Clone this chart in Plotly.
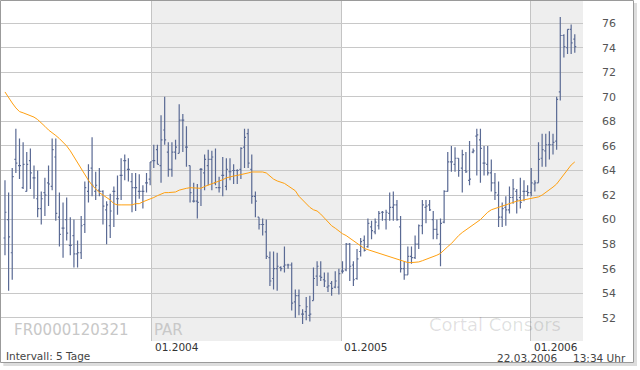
import pandas as pd
import plotly.graph_objects as go

first_week = "2003-03-24"

open_ = [58.5, 60.0, 57.3, 64.9, 64.4, 62.6, 62.3, 64.8, 63.4, 61.7,
         60.9, 62.2, 63.0, 62.7, 65.1, 60.2, 59.3, 60.0, 57.9, 58.7,
         57.2, 57.3, 59.6, 62.3, 64.2, 62.3, 62.4, 62.3, 60.8, 59.5,
         62.3, 61.7, 63.6, 64.8, 64.1, 63.1, 62.6, 62.3, 62.3, 63.0,
         63.3, 64.8, 65.7, 64.4, 67.3, 65.5, 64.1, 65.5, 65.4, 68.1,
         65.9, 64.4, 61.5, 61.5, 64.1, 63.8, 64.4, 64.9, 63.0, 62.6,
         63.6, 62.7, 63.9, 64.0, 64.0, 64.1, 65.9, 67.0, 64.1, 61.9,
         60.2, 59.6, 59.0, 56.9, 55.2, 56.0, 56.1, 56.2, 56.3, 56.3,
         53.3, 53.8, 52.3, 52.5, 52.2, 53.4, 55.4, 55.4, 55.1, 54.5,
         54.8, 54.5, 54.5, 55.8, 55.9, 58.0, 56.3, 55.2, 57.4, 58.3,
         57.8, 59.4, 59.0, 59.5, 60.6, 60.0, 60.5, 61.0, 61.2, 59.4,
         56.0, 55.5, 57.0, 56.9, 58.0, 59.5, 61.0, 61.2, 60.0, 59.2,
         58.0, 59.8, 62.3, 64.7, 64.5, 65.0, 64.2, 64.0, 63.2, 65.5,
         66.8, 66.5, 64.6, 64.5, 63.8, 63.0, 62.0, 60.2, 61.0, 60.8,
         61.8, 62.3, 61.8, 62.3, 62.3, 62.2, 62.9, 63.0, 65.0, 65.6,
         66.1, 66.1, 66.4, 70.4, 75.0, 74.0, 75.5, 74.7]
high = [63.2, 62.2, 64.2, 67.4, 66.6, 66.3, 65.5, 65.8, 64.4, 64.0,
        62.3, 63.4, 64.4, 66.6, 66.6, 62.2, 61.4, 61.8, 60.2, 60.0,
        58.3, 60.3, 63.1, 64.5, 66.7, 63.9, 64.2, 62.4, 61.5, 62.1,
        62.7, 63.6, 65.0, 65.3, 65.0, 63.8, 63.8, 63.7, 62.8, 63.8,
        64.7, 66.1, 66.1, 68.5, 70.0, 66.3, 66.3, 66.5, 69.4, 68.6,
        67.6, 64.4, 63.0, 62.9, 64.2, 65.3, 65.7, 65.6, 65.8, 63.5,
        65.1, 65.0, 65.0, 64.5, 64.1, 65.9, 67.4, 67.4, 65.3, 62.3,
        60.2, 60.1, 60.0, 57.4, 57.4, 57.3, 56.2, 57.8, 56.4, 56.5,
        54.3, 54.3, 52.7, 53.7, 53.8, 56.1, 56.6, 56.6, 55.7, 55.7,
        55.0, 55.8, 56.0, 56.6, 58.1, 58.1, 56.6, 57.6, 58.5, 58.7,
        60.1, 59.9, 60.1, 60.7, 60.7, 60.8, 62.2, 62.3, 61.6, 60.3,
        56.6, 57.8, 57.8, 58.7, 59.6, 61.6, 61.6, 61.6, 60.7, 60.0,
        60.1, 62.4, 65.5, 66.0, 65.9, 65.0, 65.7, 65.5, 66.4, 65.8,
        67.4, 67.4, 66.0, 66.0, 64.9, 63.8, 63.1, 61.4, 61.9, 62.7,
        63.3, 62.5, 63.4, 63.2, 62.8, 64.2, 63.2, 66.3, 67.0, 67.0,
        67.2, 67.0, 70.0, 76.5, 75.1, 75.5, 75.9, 75.1]
low = [57.1, 54.2, 55.1, 63.8, 63.3, 62.5, 62.3, 62.5, 61.7, 60.2,
       59.6, 60.3, 61.1, 62.4, 59.9, 57.8, 56.9, 58.3, 57.1, 56.1,
       56.1, 56.8, 58.9, 61.4, 61.9, 61.6, 61.9, 59.6, 58.0, 58.5,
       59.4, 60.4, 61.6, 63.2, 63.1, 60.6, 60.7, 61.7, 60.9, 62.2,
       62.8, 64.2, 64.5, 63.0, 66.1, 63.5, 63.5, 64.9, 65.4, 65.5,
       64.3, 61.4, 61.4, 60.1, 61.1, 62.4, 62.8, 62.4, 62.8, 62.2,
       61.9, 62.4, 63.2, 62.9, 62.9, 63.3, 64.2, 64.2, 61.3, 60.2,
       59.2, 58.7, 56.8, 54.6, 54.3, 54.2, 55.8, 55.7, 56.0, 52.6,
       52.0, 52.2, 51.5, 51.8, 51.7, 53.4, 54.6, 55.0, 54.5, 54.1,
       53.8, 54.4, 53.9, 55.6, 55.8, 55.0, 54.6, 55.1, 57.0, 57.4,
       57.7, 58.4, 58.8, 59.2, 59.9, 59.2, 59.9, 59.9, 59.9, 55.7,
       55.1, 55.5, 56.4, 56.8, 57.6, 58.8, 59.7, 60.7, 58.4, 58.4,
       56.2, 59.7, 62.3, 63.9, 63.9, 63.5, 62.2, 63.8, 62.8, 65.4,
       63.6, 63.0, 63.6, 63.6, 62.3, 61.6, 59.4, 59.4, 59.5, 60.5,
       61.3, 60.5, 60.9, 61.5, 61.9, 61.9, 62.3, 63.0, 64.3, 64.3,
       64.9, 65.3, 65.7, 69.7, 73.2, 73.5, 73.5, 73.6]
close = [60.6, 58.6, 63.5, 64.6, 64.4, 64.5, 64.5, 63.8, 63.4, 60.9,
         61.7, 62.0, 62.9, 65.7, 60.5, 58.8, 59.3, 58.9, 57.9, 57.2,
         57.3, 59.5, 62.6, 64.0, 62.8, 62.8, 62.3, 61.1, 61.2, 60.7,
         62.3, 61.7, 63.6, 64.8, 64.1, 62.6, 62.6, 62.3, 62.3, 63.0,
         64.7, 64.8, 64.5, 66.5, 66.5, 64.1, 65.5, 65.9, 68.1, 68.1,
         65.9, 62.2, 61.5, 61.4, 64.1, 64.9, 64.9, 65.1, 62.6, 62.6,
         63.6, 64.1, 63.9, 64.0, 64.0, 65.8, 66.7, 64.6, 61.9, 61.5,
         59.6, 59.6, 57.0, 55.0, 56.0, 56.2, 56.0, 56.3, 56.3, 53.2,
         53.8, 53.0, 52.3, 52.9, 52.3, 55.2, 56.2, 55.3, 55.0, 54.6,
         54.4, 55.0, 55.6, 55.8, 58.0, 56.2, 55.1, 56.8, 58.2, 57.5,
         59.7, 59.1, 59.8, 60.5, 60.6, 60.6, 61.0, 61.2, 60.0, 56.0,
         55.5, 57.0, 56.9, 58.0, 59.5, 61.2, 61.1, 60.8, 59.2, 58.8,
         59.7, 62.3, 64.7, 64.7, 65.0, 64.0, 65.3, 63.9, 63.3, 65.6,
         66.9, 65.8, 64.6, 63.8, 63.0, 62.2, 60.2, 60.9, 60.8, 61.8,
         62.5, 61.6, 61.4, 62.3, 62.2, 63.0, 63.0, 64.9, 65.7, 66.1,
         66.1, 66.3, 69.8, 75.0, 74.1, 75.5, 74.4, 74.1]
moving_avg = [70.4, 69.9, 69.5, 69.1, 68.8, 68.7, 68.6, 68.5, 68.35, 68.15,
              67.9, 67.6, 67.3, 67.1, 66.85, 66.6, 66.3, 66.0, 65.6, 65.1,
              64.7, 64.1, 63.6, 63.2, 62.8, 62.5, 62.2, 62.0, 61.8, 61.6,
              61.3, 61.2, 61.2, 61.2, 61.2, 61.2, 61.3, 61.3, 61.45, 61.55,
              61.7, 61.8, 61.95, 62.1, 62.2, 62.2, 62.2, 62.25, 62.4, 62.5,
              62.55, 62.6, 62.6, 62.55, 62.55, 62.7, 62.8, 62.9, 63.0, 63.1,
              63.25, 63.4, 63.5, 63.55, 63.6, 63.65, 63.7, 63.8, 63.88, 63.9,
              63.9, 63.88, 63.8, 63.55, 63.3, 63.15, 63.05, 62.95, 62.75, 62.55,
              62.35, 61.9, 61.6, 61.3, 61.0, 60.8, 60.7, 60.45, 60.15, 59.8,
              59.5, 59.3, 59.05, 58.85, 58.7, 58.5, 58.3, 58.1, 57.85, 57.65,
              57.55, 57.45, 57.35, 57.25, 57.15, 57.05, 56.95, 56.85, 56.75, 56.65,
              56.55, 56.5, 56.5, 56.5, 56.55, 56.65, 56.75, 56.9, 57.0, 57.1,
              57.25, 57.55, 57.8, 58.05, 58.4, 58.7, 58.95, 59.15, 59.35, 59.55,
              59.75, 60.0, 60.3, 60.6, 60.8, 60.9, 61.0, 61.1, 61.25, 61.35,
              61.45, 61.5, 61.55, 61.6, 61.65, 61.7, 61.75, 61.85, 62.0, 62.2,
              62.45, 62.65, 62.9, 63.3, 63.7, 64.1, 64.45, 64.7]

year_ticks = ["2004-01-01", "2005-01-01", "2006-01-01"]
year_labels = ["01.2004", "01.2005", "01.2006"]
price_ticks = [52, 54, 56, 58, 60, 62, 64, 66, 68, 70, 72, 74, 76]

dates = pd.date_range(first_week, periods=len(close), freq="7D")
x_range = ["2003-03-16 08:00", "2006-04-11 20:00"]

BAR = "#5a6a94"
FONT = "DejaVu Sans"

fig = go.Figure()
fig.add_trace(go.Ohlc(
    x=dates, open=open_, high=high, low=low, close=close,
    increasing=dict(line=dict(color=BAR, width=1.2)),
    decreasing=dict(line=dict(color=BAR, width=1.2)),
    tickwidth=0.4, showlegend=False, hoverinfo="skip"))
fig.add_trace(go.Scatter(
    x=dates, y=moving_avg, mode="lines",
    line=dict(color="#ffa010", width=1), showlegend=False, hoverinfo="skip"))

shapes = [
    dict(type="rect", xref="x", yref="paper", x0=year_ticks[0], x1=year_ticks[1],
         y0=0, y1=1, fillcolor="#eeeeee", line=dict(width=0), layer="below"),
    dict(type="rect", xref="x", yref="paper", x0=year_ticks[2], x1=x_range[1],
         y0=0, y1=1, fillcolor="#eeeeee", line=dict(width=0), layer="below"),
    # shadow
    dict(type="rect", xref="paper", yref="paper", x0=1.0876, x1=1.0928,
         y0=-0.0735, y1=0.994, fillcolor="#dddddd", line=dict(width=0), layer="above"),
    dict(type="rect", xref="paper", yref="paper", x0=0.004, x1=1.0928,
         y0=-0.0735, y1=-0.0647, fillcolor="#dddddd", line=dict(width=0), layer="above"),
    # frame
    dict(type="rect", xref="paper", yref="paper", x0=-0.00086, x1=1.08677,
         y0=-0.06324, y1=1.00147, line=dict(color="#9a9a9a", width=1),
         fillcolor="rgba(0,0,0,0)", layer="above"),
]

annotations = []
for d, lab in zip(year_ticks, year_labels):
    annotations.append(dict(x=d, xref="x", y=-0.0190, yref="paper", text=lab,
                            showarrow=False, xanchor="left", yanchor="middle", xshift=1,
                            font=dict(family=FONT, size=10.5, color="#333333")))
annotations += [
    dict(x=0.0052, y=-0.044, xref="paper", yref="paper", text="Intervall: 5 Tage",
         showarrow=False, xanchor="left", yanchor="middle",
         font=dict(family=FONT, size=10.5, color="#444444")),
    dict(x=0.8488, y=-0.049, xref="paper", yref="paper", text="22.03.2006",
         showarrow=False, xanchor="left", yanchor="middle",
         font=dict(family=FONT, size=10.5, color="#444444")),
    dict(x=1.0773, y=-0.049, xref="paper", yref="paper", text="13:34 Uhr",
         showarrow=False, xanchor="right", yanchor="middle",
         font=dict(family=FONT, size=10.5, color="#444444")),
    dict(x=0.0189, y=0.0324, xref="paper", yref="paper", text="FR0000120321",
         showarrow=False, xanchor="left", yanchor="middle",
         font=dict(family=FONT, size=15, color="#c8c8c8")),
    dict(x=0.2595, y=0.0324, xref="paper", yref="paper", text="PAR",
         showarrow=False, xanchor="left", yanchor="middle",
         font=dict(family=FONT, size=15, color="#c8c8c8")),
    dict(x=0.732, y=0.05, xref="paper", yref="paper", text="Cortal Consors",
         showarrow=False, xanchor="left", yanchor="middle",
         font=dict(family=FONT, size=18, color="rgba(0,0,0,0.12)")),
]

fig.update_layout(
    width=640, height=370,
    margin=dict(l=1, r=57, t=1, b=29),
    paper_bgcolor="white", plot_bgcolor="white",
    font=dict(family=FONT),
    shapes=shapes, annotations=annotations,
    xaxis=dict(type="date", range=x_range, tickvals=year_ticks, showticklabels=False,
               showgrid=True, gridcolor="#c4c4c4", gridwidth=1, zeroline=False,
               showline=False, ticks="", rangeslider=dict(visible=False), fixedrange=True),
    yaxis=dict(range=[50.11, 77.81], side="right", tickvals=price_ticks,
               showgrid=True, gridcolor="#c8c8c8", gridwidth=1, zeroline=False,
               showline=False, ticks="", ticklabelstandoff=18,
               tickfont=dict(family=FONT, size=11, color="#555555"), fixedrange=True),
)

fig.write_html("out.html", config={"displayModeBar": False},
               post_script="document.body.style.margin='0px';")
